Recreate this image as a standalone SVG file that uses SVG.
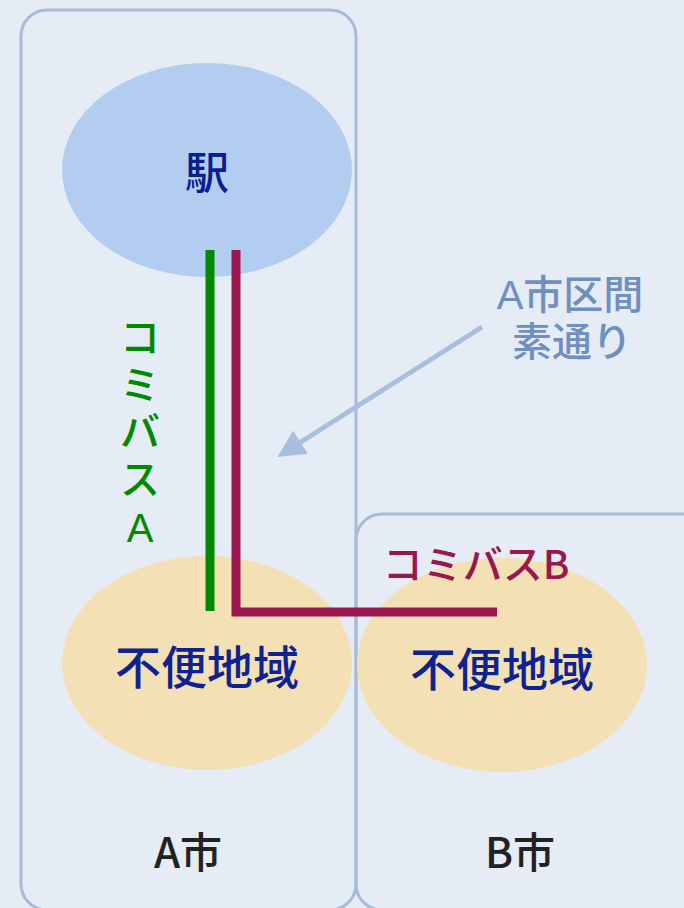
<svg xmlns="http://www.w3.org/2000/svg" width="684" height="908" viewBox="0 0 684 908">
<style>
.box{fill:none;stroke:#a7bbd8;stroke-width:3}
.t{font-family:"Noto Sans CJK JP","Noto Sans",sans-serif;font-weight:500;text-anchor:middle;dominant-baseline:central}
.tc{font-family:"Liberation Sans","Noto Sans CJK JP",sans-serif;font-weight:500;text-anchor:middle;dominant-baseline:central}
.area{fill:#f3e0b5}
</style>
<defs>
<marker id="ah" viewBox="0 0 10 10" refX="8" refY="5" markerWidth="5.5" markerHeight="5.5" orient="auto" markerUnits="strokeWidth">
<path d="M0,0 L10,5 L0,10 z" fill="#a9bedc"/>
</marker>
</defs>
<rect width="684" height="908" fill="#e5ecf6"/>
<g id="cityA">
<rect class="box" x="21" y="10" width="335" height="900" rx="26"/>
<text class="t" x="188" y="849" font-size="42" fill="#222">A市</text>
</g>
<g id="cityB">
<rect class="box" x="356" y="514" width="360" height="396" rx="26"/>
<text class="t" x="520" y="849" font-size="42" fill="#222">B市</text>
</g>
<g id="station">
<ellipse cx="207" cy="170" rx="145" ry="107" fill="#b3cdf0"/>
<text class="t" x="207" y="170" font-size="44" fill="#0b1f8f">駅</text>
</g>
<g id="areaA">
<ellipse class="area" cx="207" cy="663" rx="145" ry="107"/>
<text class="t" x="207" y="664" font-size="46" fill="#0f2390">不便地域</text>
</g>
<g id="areaB">
<ellipse class="area" cx="502" cy="665" rx="145" ry="107"/>
<text class="t" x="502" y="666" font-size="46" fill="#0f2390">不便地域</text>
</g>
<g id="connectors">
<line x1="210" y1="250" x2="210" y2="611" stroke="#008a00" stroke-width="9"/>
<polyline points="236,250 236,612 497,612" fill="none" stroke="#97174e" stroke-width="9"/>
<line x1="482" y1="327" x2="282" y2="454" stroke="#a9bedc" stroke-width="5" marker-end="url(#ah)"/>
</g>
<g id="labelA" fill="#008a00" font-size="40">
<text class="tc" x="140" y="338">コ</text>
<text class="tc" x="140" y="385">ミ</text>
<text class="tc" x="140" y="432">バ</text>
<text class="tc" x="140" y="480">ス</text>
<text class="tc" x="140" y="528">A</text>
</g>
<g id="labelB">
<text class="t" x="476" y="562" font-size="40" fill="#97174e">コミバスB</text>
</g>
<g id="note" fill="#6e8fc0" font-size="40">
<text class="tc" x="570" y="295">A市区間</text>
<text class="tc" x="572" y="342">素通り</text>
</g>
</svg>
